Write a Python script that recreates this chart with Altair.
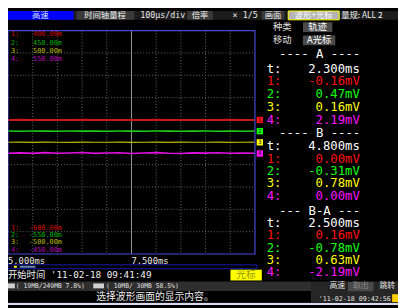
import altair as alt
import pandas as pd

# ---------------- data ----------------
times = [5.0, 5.25, 5.5, 5.75, 6.0, 6.25, 6.5, 6.75, 7.0, 7.25, 7.5,
         7.75, 8.0, 8.25, 8.5, 8.75, 9.0, 9.25, 9.5, 9.75, 10.0]
ch1_mv = [-0.1, 0.2, 0.0, -0.3, 0.1, 0.0, 0.2, -0.2, 0.0, 0.1, -0.1,
          0.0, 0.3, -0.1, 0.0, 0.1, -0.2, 0.0, 0.2, -0.1, 0.0]
ch2_mv = [0.3, -0.2, 0.5, 0.1, -0.3, 0.4, 0.0, 0.2, -0.4, 0.3, 0.1,
          -0.2, 0.4, 0.0, -0.3, 0.2, 0.5, -0.1, 0.1, -0.2, 0.3]
ch3_mv = [0.2, 0.5, 0.1, 0.7, 0.3, 0.0, 0.6, 0.2, 0.4, 0.8, 0.1,
          0.3, 0.5, 0.0, 0.6, 0.2, 0.4, 0.7, 0.1, 0.3, 0.5]
ch4_mv = [1.2, 2.8, 0.4, 3.9, 1.0, 2.2, 4.4, 0.6, 1.8, 3.1, 0.2,
          2.5, 4.0, 1.1, 0.0, 2.9, 1.6, 3.6, 0.8, 2.1, 1.4]

channels = ["1", "2", "3", "4"]
range_top_mv = [400, 450, 500, 550]
range_bottom_mv = [-600, -550, -500, -450]
top_labels = ["400.00m", "450.00m", "500.00m", "550.00m"]
bottom_labels = ["-600.00m", "-550.00m", "-500.00m", "-450.00m"]

time_labels = ["5.000ms", "7.500ms"]
time_label_t = [5.0, 7.5]
x_domain = [5.0, 10.0]
grid_t = [5.5, 6.0, 6.5, 7.0, 8.0, 8.5, 9.0, 9.5]
center_t = [7.5]
grid_div = [-4, -3, -2, -1, 0, 1, 2, 3, 4]

row_names = ["t:", "1:", "2:", "3:", "4:"]
cursor_A = ["2.300ms", "-0.16mV", "0.47mV", "0.16mV", "2.19mV"]
cursor_B = ["4.800ms", "0.00mV", "-0.31mV", "0.78mV", "0.00mV"]
cursor_BA = ["2.500ms", "0.16mV", "-0.78mV", "0.63mV", "-2.19mV"]
cursor_headers = ["---- A ----", "---- B ----", "--- B-A ---"]

# ---------------- style / layout ----------------
OFF = 8
MONO = "DejaVu Sans Mono, Noto Sans CJK SC"
CJK = "Noto Sans CJK SC, DejaVu Sans"
bright = ["#ff1010", "#10ff10", "#ffff10", "#ff10ff"]
dim = ["#d80000", "#00b400", "#b8b800", "#b800b8"]
trace_col = ["#c81818", "#18d018", "#b4b400", "#e010e0"]
trace_w = [2.2, 1.6, 1.2, 1.6]
PX0, PX1, PY0, PY1 = 8 - OFF, 260 - OFF, 28 - OFF, 256 - OFF

one = pd.DataFrame({"k": [0]})
xs = alt.Scale(domain=x_domain, range=[PX0, PX1])


def p(v):
    return v - OFF


def txt(s, x, y, color, size, align="left", font=MONO):
    return alt.Chart(one).mark_text(
        text=s, align=align, baseline="middle", color=color,
        fontSize=size, font=font).encode(x=alt.value(p(x)), y=alt.value(p(y)))


def box(x1, y1, x2, y2, fill, stroke=None, sw=1.0, fo=1.0):
    kw = dict(fill=fill, fillOpacity=fo)
    if stroke:
        kw.update(stroke=stroke, strokeWidth=sw)
    return alt.Chart(one).mark_rect(**kw).encode(
        x=alt.value(p(x1)), x2=alt.value(p(x2)),
        y=alt.value(p(y1)), y2=alt.value(p(y2)))


layers = []

# top bar (compressed into visible area)
layers += [
    box(6, 8, 406, 17, "#1c1c1c"),
    box(7, 8, 75, 17, "#0000ff"),
    txt("高速", 41, 12.5, "#d0e0ff", 8.5, "center", CJK),
    box(78, 8, 137, 17, "#3a3a3a"),
    txt("时间轴量程", 107, 12.5, "#f0f0f0", 8.5, "center", CJK),
    txt("100μs/div", 166, 12.5, "#e8e8e8", 8.5, "center"),
    box(191, 8, 217, 17, "#3a3a3a"),
    txt("倍率", 204, 12.5, "#f0f0f0", 8.5, "center", CJK),
    txt("× 1/5", 250, 12.5, "#e8e8e8", 8.5, "center"),
    box(267, 8, 290, 17, "#3a3a3a"),
    txt("画面", 278.5, 12.5, "#f0f0f0", 8.5, "center", CJK),
    box(294, 8, 346, 17, "#b4b4b4", "#ffff00", 1),
    txt("波形+光标", 320, 12.5, "#ffffff", 8.5, "center", CJK),
    txt("量规: ALL 2", 348, 12.5, "#f0f0f0", 8.5, "left", CJK),
]

# right panel controls
layers += [
    txt("种类", 288, 24.5, "#e0e0e0", 9.5, "center", CJK),
    box(309, 19.5, 339, 29.5, "#4a4a4a"),
    txt("轨迹", 324, 24.5, "#ffffff", 9.5, "center", CJK),
    txt("移动", 288, 38, "#e0e0e0", 9.5, "center", CJK),
    box(309, 33, 342, 43, "#4a4a4a"),
    txt("A光标", 325.5, 38, "#ffffff", 9.5, "center", CJK),
]

# grid
grid_v = alt.Chart(pd.DataFrame({"t": grid_t})).mark_rule(
    color="#6a6a6a", strokeDash=[1, 2], strokeWidth=1).encode(
    x=alt.X("t:Q", scale=xs, axis=None),
    y=alt.value(PY0), y2=alt.value(PY1))
grid_h = alt.Chart(pd.DataFrame({"div": grid_div})).mark_rule(
    color="#6a6a6a", strokeDash=[1, 2], strokeWidth=1).encode(
    y=alt.Y("div:Q", scale=alt.Scale(domain=[-5, 5], range=[PY1, PY0]), axis=None),
    x=alt.value(PX0), x2=alt.value(PX1))
center_v = alt.Chart(pd.DataFrame({"t": center_t})).mark_rule(
    color="#9a9a9a", strokeWidth=1).encode(
    x=alt.X("t:Q", scale=xs, axis=None),
    y=alt.value(PY0), y2=alt.value(PY1))
layers += [grid_v, grid_h, center_v]

# traces, each with its own vertical range
series = [ch1_mv, ch2_mv, ch3_mv, ch4_mv]
for i in reversed(range(4)):
    ys = alt.Scale(domain=[range_bottom_mv[i], range_top_mv[i]], range=[PY1, PY0])
    df = pd.DataFrame({"t": times, "mv": series[i]})
    line = alt.Chart(df).mark_line(color=trace_col[i], strokeWidth=trace_w[i]).encode(
        x=alt.X("t:Q", scale=xs, axis=None),
        y=alt.Y("mv:Q", scale=ys, axis=None))
    zero = pd.DataFrame({"mv": [0.0]})
    mark = alt.Chart(zero).mark_square(size=42, color=bright[i], opacity=1).encode(
        x=alt.value(p(265)), y=alt.Y("mv:Q", scale=ys, axis=None))
    digit = alt.Chart(zero).mark_text(text=channels[i], color="#202020", fontSize=6,
                                      font=MONO, baseline="middle").encode(
        x=alt.value(p(265)), y=alt.Y("mv:Q", scale=ys, axis=None))
    layers.append(alt.layer(line, mark, digit))

# range labels inside the plot
top_y = [32, 40.5, 49, 57]
bot_y = [229, 236.5, 244, 251.5]
for i in range(4):
    layers += [
        txt(channels[i] + ":", 11, top_y[i], dim[i], 7),
        txt(top_labels[i], 63, top_y[i], dim[i], 7, "right"),
        txt(channels[i] + ":", 11, bot_y[i], dim[i], 7),
        txt(bottom_labels[i], 63, bot_y[i], dim[i], 7, "right"),
    ]

# plot border
layers.append(box(8, 28, 260, 256, "#000000", "#4848d8", 1.2, 0))

# cursor readouts
row_cols = ["#ffffff"] + bright
blocks = [(52, [67, 80, 93, 106, 119], cursor_A),
          (133, [146, 159, 171.5, 184, 196.5], cursor_B),
          (212, [224.5, 237, 249.5, 262, 274.5], cursor_BA)]
for (hy, rows, vals), head in zip(blocks, cursor_headers):
    layers.append(txt(head, 326, hy, "#ffffff", 12.5, "center"))
    for r in range(5):
        layers.append(txt(row_names[r], 272, rows[r], row_cols[r], 12.5))
        layers.append(txt(vals[r], 367, rows[r], row_cols[r], 12.5, "right"))

# time axis labels (through the x scale)
tl = alt.Chart(pd.DataFrame({"t": time_label_t, "lab": time_labels})).mark_text(
    align="left", baseline="middle", color="#e8e8e8", fontSize=9, font=MONO).encode(
    x=alt.X("t:Q", scale=xs, axis=None), y=alt.value(p(263)), text="lab:N")
layers.append(tl)

# bottom area
layers += [
    box(8, 267, 262, 271, "#000000", "#1818b0", 1),
    box(14, 268, 17, 270, "#ffff00"),
    box(20, 268, 36, 270, "#6888a8"),
    txt("开始时间 '11-02-18 09:41:49", 8, 277.5, "#f0f0f0", 9.5, "left", MONO),
    box(235, 272, 267, 283, "#ffff00"),
    txt("光标", 251, 277.5, "#9a9a00", 10, "center", CJK),
    box(6, 284, 318, 293, "#2e2e2e"),
    box(7, 286, 15, 291, "#d0d0d0"),
    txt("( 19MB/249MB  7.8%)", 16, 288.5, "#e0e0e0", 6.5, "left"),
    box(95, 286, 106, 291, "#d0d0d0"),
    txt("( 10MB/ 30MB 58.5%)", 108, 288.5, "#e0e0e0", 6.5, "left"),
    box(6, 293, 318, 306, "#000000", "#3a3a3a", 1),
    txt("选择波形画面的显示内容。", 158, 300, "#f0f0f0", 10, "center", CJK),
    box(318, 284, 406, 306, "#262626"),
    txt("高速", 344, 289, "#e0e0e0", 8, "center", CJK),
    box(355, 284.5, 381, 294, "#4a4a4a"),
    txt("取出", 368, 289, "#8a8a8a", 8, "center", CJK),
    txt("跳转", 395, 289, "#e0e0e0", 8, "center", CJK),
    txt("'11-02-18 09:42:56", 325, 301.5, "#e8e8e8", 6.8, "left"),
    box(400, 297, 406, 305, "#ffd000"),
    box(0, 306, 406, 308, "#d8d8f0"),
]

chart = alt.layer(*layers).resolve_scale(y="independent").properties(
    width=398, height=300, padding=0,
    autosize=alt.AutoSizeParams(type="none"),
    background="#000000",
).configure_view(strokeOpacity=0)

chart.save("out.html", embed_options={"renderer": "svg", "actions": False})
